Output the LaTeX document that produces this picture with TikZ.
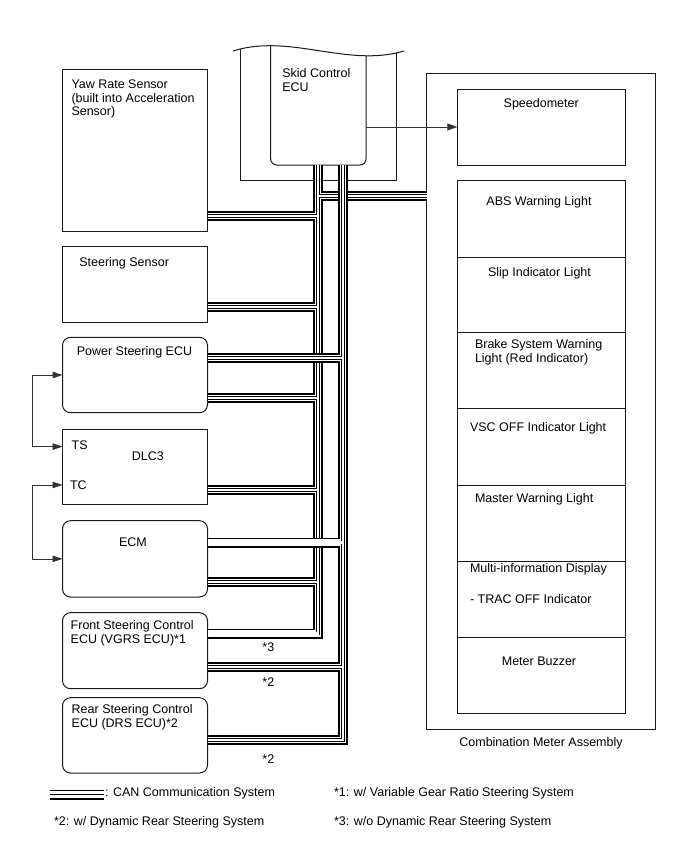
\documentclass[tikz,border=0pt]{standalone}
\usepackage{fontspec}
\setmainfont{Liberation Sans}
\usetikzlibrary{arrows.meta,calc}
\newcommand\stacklines[1]{\vtop{\halign{##\hfil\cr#1\crcr}}}
\begin{document}
\begin{tikzpicture}[x=1pt,y=-1pt,
  font=\fontsize{12.5}{13.8}\selectfont,
  box/.style={draw=black!90, line width=1pt, anchor=north west, inner sep=0pt, outer sep=0pt, minimum width=145pt},
  rbox/.style={box, rounded corners=8pt},
  lbl/.style={inner sep=0pt, outer sep=0pt, anchor=base west},
  clbl/.style={inner sep=0pt, outer sep=0pt, anchor=base},
  conn/.style={draw=black!80, line width=0.7pt}]
\useasboundingbox (0,0) rectangle (688,852);

% left boxes
\node[box, minimum height=162pt] (yaw) at (62.5,69) {};
\node[box, minimum height=76.3pt] (steer) at (62.5,246) {};
\node[rbox, minimum height=75.4pt] (ps) at (62.5,337.3) {};
\node[box, minimum height=75.3pt] (dlc) at (62.5,429) {};
\node[rbox, minimum height=76.3pt] (ecm) at (62.5,520.7) {};
\node[rbox, minimum height=76pt] (front) at (62.5,612.7) {};
\node[rbox, minimum height=75.3pt] (rear) at (62.5,697.7) {};

% combination meter
\node[box, minimum width=229pt, minimum height=656pt] (cma) at (426.7,73.3) {};
\node[box, minimum width=167.7pt, minimum height=76pt] (speedo) at (457.3,89) {};
\foreach \n/\t/\h in {abs/180/77, slip/257/75.3, brake/332.3/76.4, vsc/408.7/76.3, master/485/76.7, multi/561.7/75.6, buzzer/637.3/76}
  \node[box, minimum width=167.7pt, minimum height=\h pt] (\n) at (457.3,\t) {};

% skid control ECU with broken-off top
\begin{scope}
\clip (233,51) .. controls (290,33) and (347,68) .. (404,51) -- (404,200) -- (233,200) -- cycle;
\node[box, minimum width=156.7pt, minimum height=160pt] (skidouter) at (240,20) {};
\node[box, rounded corners=6pt, minimum width=95.3pt, minimum height=145pt] (skid) at (270.7,20) {};
\end{scope}
\draw[line width=1pt, black!90] (233,51) .. controls (290,33) and (347,68) .. (404,51);

% bus coordinates
\coordinate (A0) at (318,165);
\coordinate (B0) at (343,165);
\coordinate (Aend) at (318,633.5);
\coordinate (Bend) at (343,740);
\coordinate (jmeter) at (318,196);
\coordinate (jyaw) at (318,216);
\coordinate (jsteer) at (318,307);
\coordinate (jps) at (343,358);
\coordinate (jps2) at (318,398);
\coordinate (jdlc) at (318,490);
\coordinate (jecm) at (343,542.5);
\coordinate (jecm2) at (318,582);
\coordinate (jfront) at (343,667);
\coordinate (xps) at (318,358);
\coordinate (xecm) at (318,542.5);
\coordinate (xmeter) at (343,196);

\foreach \w/\c in {10/black, 6.6/white, 3.8/black, 2.4/white}{
  \draw[line width=\w pt, draw=\c, line join=miter]
    (A0) -- (Aend) -- (front.east |- Aend)
    (B0) -- (Bend) -- (rear.east |- Bend)
    (jmeter) -- (cma.west |- jmeter)
    (yaw.east |- jyaw) -- (jyaw)
    (steer.east |- jsteer) -- (jsteer)
    (ps.east |- jps) -- (jps)
    (ps.east |- jps2) -- (jps2)
    (dlc.east |- jdlc) -- (jdlc)
    (ecm.east |- jecm) -- (jecm)
    (ecm.east |- jecm2) -- (jecm2)
    (front.east |- jfront) -- (jfront);
}
\foreach \w/\c in {10/black, 6.6/white, 3.8/black, 2.4/white}{
  \draw[line width=\w pt, draw=\c]
    ([xshift=-7pt]xps) -- ([xshift=7pt]xps)
    ([xshift=-7pt]xecm) -- ([xshift=7pt]xecm)
    ([yshift=-8pt]xmeter) -- ([yshift=8pt]xmeter);
}

% signal connectors
\draw[conn, -{Triangle[length=10pt,width=7pt]}] (skid.east |- speedo.west) -- (speedo.west);
\coordinate (xl) at (32.7,0);
\coordinate (tsin) at ($(dlc.west)+(0,-20)$);
\coordinate (tcin) at ($(dlc.west)+(0,18.3)$);
\draw[conn, {Triangle[length=10pt,width=6.5pt]}-{Triangle[length=10pt,width=6.5pt]}]
  (ps.west) -- (ps.west -| xl) |- (tsin);
\draw[conn, {Triangle[length=10pt,width=6.5pt]}-{Triangle[length=10pt,width=6.5pt]}]
  (tcin) -- (tcin -| xl) |- (ecm.west);

% labels
\node[lbl] (yawl) at (71.5,88.3) {\stacklines{Yaw Rate Sensor\cr (built into Acceleration\cr Sensor)}};
\node[lbl] (steerl) at (79.3,266) {Steering Sensor};
\node[clbl] (psl) at (134.5,355.7) {Power Steering ECU};
\node[lbl] (ts) at (71.7,449) {TS};
\node[clbl] (dlcl) at (147.8,460.7) {DLC3};
\node[lbl] (tc) at (70,489) {TC};
\node[clbl] (ecml) at (133,546.7) {ECM};
\node[lbl] (frontl) at (70.7,629.3) {\stacklines{Front Steering Control\cr ECU (VGRS ECU)*1}};
\node[lbl] (rearl) at (71.7,713.3) {\stacklines{Rear Steering Control\cr ECU (DRS ECU)*2}};
\node[lbl] (skidl) at (282.3,77.3) {\stacklines{Skid Control\cr ECU}};
\node[clbl] (speedl) at (541.2,107.7) {Speedometer};
\node[clbl] (absl) at (539,205.7) {ABS Warning Light};
\node[clbl] (slipl) at (539.5,276) {Slip Indicator Light};
\node[lbl] (brakel) at (475,348.7) {\stacklines{Brake System Warning\cr Light (Red Indicator)}};
\node[lbl] (vscl) at (470,431.7) {VSC OFF Indicator Light};
\node[lbl] (masterl) at (475,502.5) {Master Warning Light};
\node[lbl] (multil) at (470,572.5) {\stacklines{Multi-information Display\cr\noalign{\vskip 17pt} - TRAC OFF Indicator}};
\node[clbl] (buzzerl) at (539,665.7) {Meter Buzzer};
\node[clbl] (cmal) at (541,746.7) {Combination Meter Assembly};
\node[clbl] (n3) at (268.3,651.7) {*3};
\node[clbl] (n2a) at (268.3,686.7) {*2};
\node[clbl] (n2b) at (268.3,763) {*2};

% legend
\draw[line width=0.9pt] (49.5,790) -- (104,790);
\draw[line width=1.5pt] (49.5,794.6) -- (104,794.6);
\draw[line width=2.5pt] (49.5,799.2) -- (104,799.2);
\node[lbl] (lg1) at (105,796.5) {: CAN Communication System};
\node[lbl] (lg2) at (334,796.5) {*1: w/ Variable Gear Ratio Steering System};
\node[lbl] (lg3) at (54,825.5) {*2: w/ Dynamic Rear Steering System};
\node[lbl] (lg4) at (334,825.5) {*3: w/o Dynamic Rear Steering System};
\end{tikzpicture}
\end{document}
